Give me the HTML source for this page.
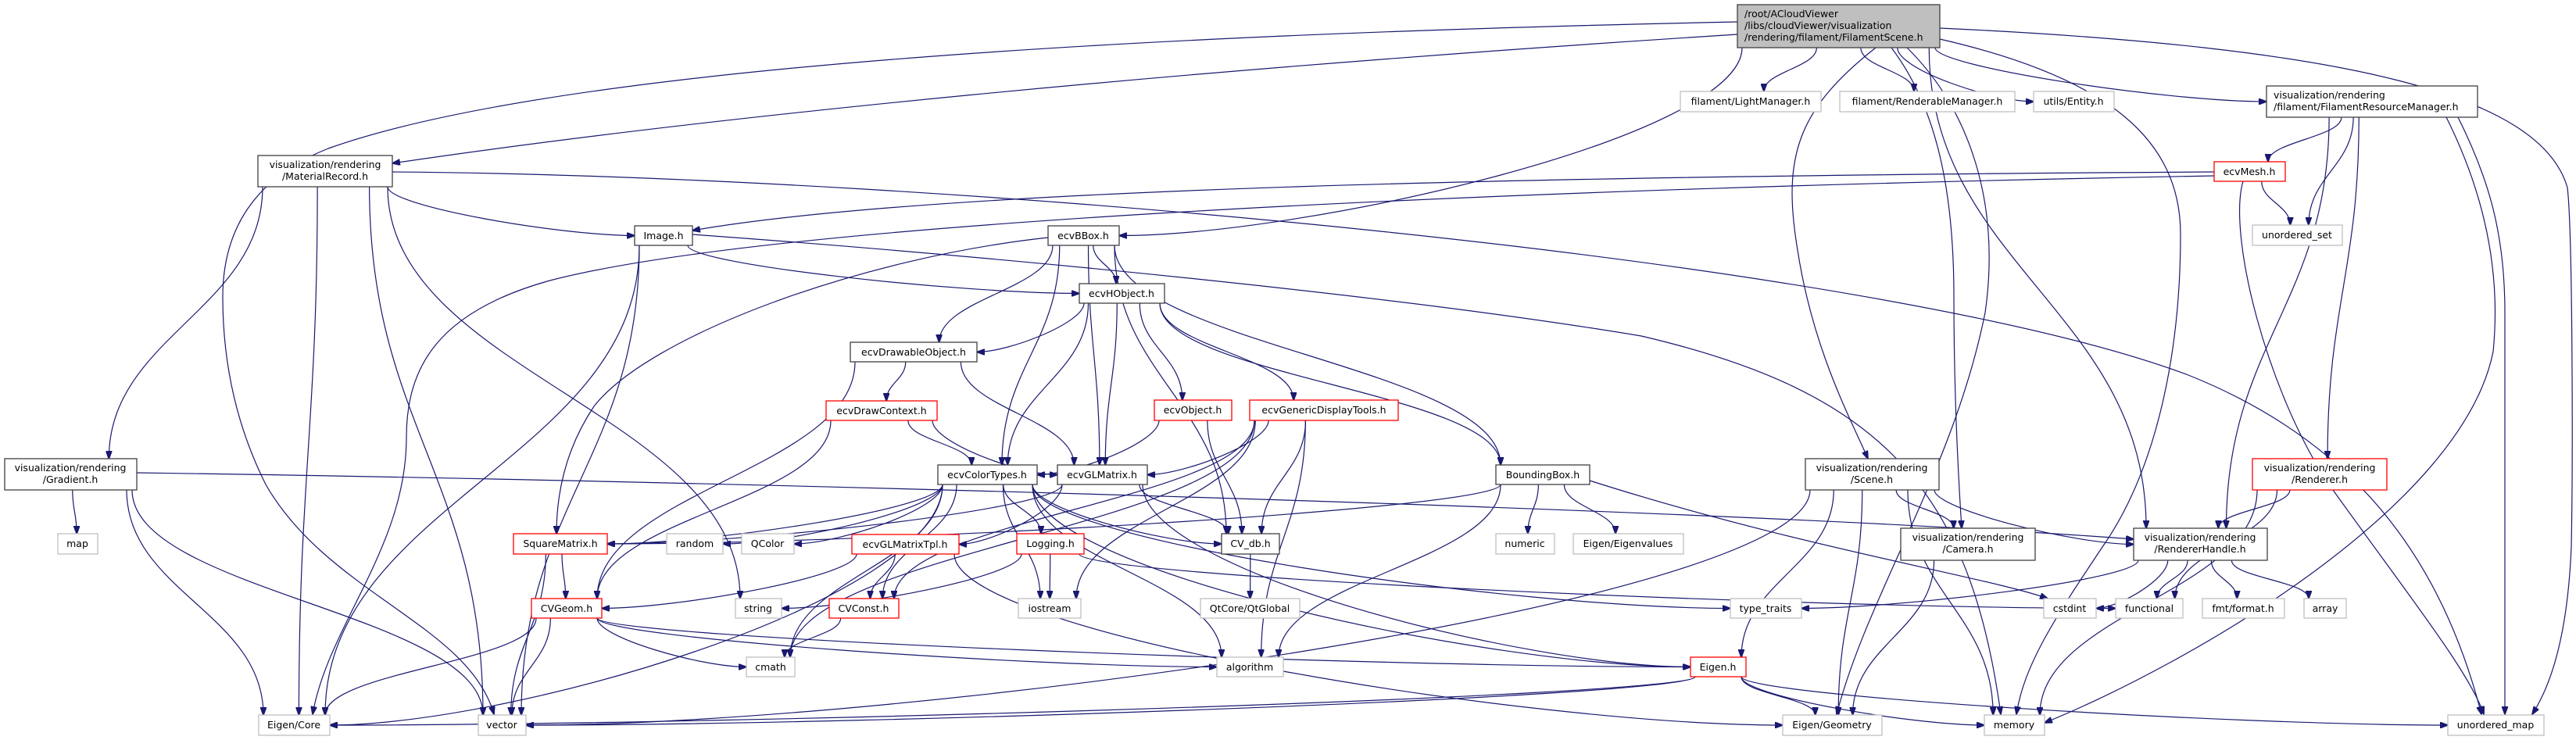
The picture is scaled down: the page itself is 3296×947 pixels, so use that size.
<!DOCTYPE html>
<html><head><meta charset="utf-8">
<style>
html,body{margin:0;padding:0;background:#fff;}
svg{display:block;}
text{font-family:"DejaVu Sans","Liberation Sans",sans-serif;font-size:12.5px;fill:#000;}
</style></head>
<body>
<svg id="g" width="3296" height="947" viewBox="0 0 3296 947" xmlns="http://www.w3.org/2000/svg">
<defs>
<marker id="ah" markerWidth="11" markerHeight="8" refX="10" refY="4" orient="auto" markerUnits="userSpaceOnUse">
<path d="M0,0 L11,4 L0,8 z" fill="#191970" stroke="#191970"/>
</marker>
</defs>
<g id="edges" fill="none" stroke="#191970" stroke-width="1.2"></g>
<g id="nodes">
<rect x="2223" y="6" width="259" height="55" fill="#bfbfbf" stroke="#404040" stroke-width="1.3"/>
<text x="2232" y="22">/root/ACloudViewer</text>
<text x="2232" y="37">/libs/cloudViewer/visualization</text>
<text x="2232" y="52">/rendering/filament/FilamentScene.h</text>

<rect x="330" y="199" width="172" height="40" fill="#fff" stroke="#404040" stroke-width="1.3"/>
<text x="416" y="215" text-anchor="middle">visualization/rendering</text>
<text x="416" y="230" text-anchor="middle">/MaterialRecord.h</text>

<rect x="812" y="289" width="74" height="25" fill="#fff" stroke="#404040" stroke-width="1.3"/>
<text x="849" y="306" text-anchor="middle">Image.h</text>

<rect x="1341" y="289" width="91" height="25" fill="#fff" stroke="#404040" stroke-width="1.3"/>
<text x="1386" y="306" text-anchor="middle">ecvBBox.h</text>

<rect x="1381" y="363" width="109" height="25" fill="#fff" stroke="#404040" stroke-width="1.3"/>
<text x="1435" y="380" text-anchor="middle">ecvHObject.h</text>

<rect x="1088" y="438" width="162" height="25" fill="#fff" stroke="#404040" stroke-width="1.3"/>
<text x="1169" y="455" text-anchor="middle">ecvDrawableObject.h</text>

<rect x="2150" y="117" width="180" height="26" fill="#fff" stroke="#bfbfbf" stroke-width="1.3"/>
<text x="2240" y="134" text-anchor="middle" fill="#000">filament/LightManager.h</text>

<rect x="2354" y="117" width="224" height="26" fill="#fff" stroke="#bfbfbf" stroke-width="1.3"/>
<text x="2466" y="134" text-anchor="middle">filament/RenderableManager.h</text>

<rect x="2602" y="117" width="103" height="26" fill="#fff" stroke="#bfbfbf" stroke-width="1.3"/>
<text x="2653" y="134" text-anchor="middle">utils/Entity.h</text>

<rect x="2900" y="110" width="270" height="40" fill="#fff" stroke="#404040" stroke-width="1.3"/>
<text x="2909" y="126">visualization/rendering</text>
<text x="2909" y="141">/filament/FilamentResourceManager.h</text>

<rect x="2833" y="207" width="91" height="25" fill="#fff" stroke="#ff0000" stroke-width="1.3"/>
<text x="2878" y="224" text-anchor="middle">ecvMesh.h</text>

<rect x="2882" y="288" width="115" height="26" fill="#fff" stroke="#bfbfbf" stroke-width="1.3"/>
<text x="2939" y="305" text-anchor="middle">unordered_set</text>

<rect x="6" y="587" width="169" height="40" fill="#fff" stroke="#404040" stroke-width="1.3"/>
<text x="90" y="603" text-anchor="middle">visualization/rendering</text>
<text x="90" y="618" text-anchor="middle">/Gradient.h</text>

<rect x="74" y="683" width="51" height="26" fill="#fff" stroke="#bfbfbf" stroke-width="1.3"/>
<text x="99" y="700" text-anchor="middle">map</text>

<rect x="657" y="683" width="120" height="26" fill="#fff" stroke="#ff0000" stroke-width="1.3"/>
<text x="717" y="700" text-anchor="middle">SquareMatrix.h</text>

<rect x="853" y="683" width="72" height="26" fill="#fff" stroke="#bfbfbf" stroke-width="1.3"/>
<text x="889" y="700" text-anchor="middle">random</text>

<rect x="949" y="683" width="67" height="26" fill="#fff" stroke="#bfbfbf" stroke-width="1.3"/>
<text x="982" y="700" text-anchor="middle">QColor</text>

<rect x="1090" y="684" width="137" height="25" fill="#fff" stroke="#ff0000" stroke-width="1.3"/>
<text x="1158" y="701" text-anchor="middle">ecvGLMatrixTpl.h</text>

<rect x="680" y="766" width="90" height="25" fill="#fff" stroke="#ff0000" stroke-width="1.3"/>
<text x="725" y="783" text-anchor="middle">CVGeom.h</text>

<rect x="941" y="766" width="59" height="25" fill="#fff" stroke="#bfbfbf" stroke-width="1.3"/>
<text x="970" y="783" text-anchor="middle">string</text>

<rect x="1061" y="766" width="89" height="25" fill="#fff" stroke="#ff0000" stroke-width="1.3"/>
<text x="1105" y="783" text-anchor="middle">CVConst.h</text>

<rect x="955" y="841" width="62" height="25" fill="#fff" stroke="#bfbfbf" stroke-width="1.3"/>
<text x="986" y="858" text-anchor="middle">cmath</text>

<rect x="331" y="915" width="91" height="26" fill="#fff" stroke="#bfbfbf" stroke-width="1.3"/>
<text x="376" y="932" text-anchor="middle">Eigen/Core</text>

<rect x="612" y="915" width="61" height="26" fill="#fff" stroke="#bfbfbf" stroke-width="1.3"/>
<text x="642" y="932" text-anchor="middle">vector</text>

<rect x="1057" y="513" width="142" height="25" fill="#fff" stroke="#ff0000" stroke-width="1.3"/>
<text x="1128" y="530" text-anchor="middle">ecvDrawContext.h</text>

<rect x="1477" y="512" width="99" height="26" fill="#fff" stroke="#ff0000" stroke-width="1.3"/>
<text x="1526" y="529" text-anchor="middle">ecvObject.h</text>

<rect x="1599" y="512" width="190" height="26" fill="#fff" stroke="#ff0000" stroke-width="1.3"/>
<text x="1694" y="529" text-anchor="middle">ecvGenericDisplayTools.h</text>

<rect x="1200" y="595" width="127" height="25" fill="#fff" stroke="#404040" stroke-width="1.3"/>
<text x="1263" y="612" text-anchor="middle">ecvColorTypes.h</text>

<rect x="1353" y="595" width="115" height="25" fill="#fff" stroke="#404040" stroke-width="1.3"/>
<text x="1410" y="612" text-anchor="middle">ecvGLMatrix.h</text>

<rect x="1914" y="595" width="120" height="25" fill="#fff" stroke="#404040" stroke-width="1.3"/>
<text x="1974" y="612" text-anchor="middle">BoundingBox.h</text>

<rect x="1301" y="683" width="86" height="26" fill="#fff" stroke="#ff0000" stroke-width="1.3"/>
<text x="1344" y="700" text-anchor="middle">Logging.h</text>

<rect x="1563" y="683" width="74" height="26" fill="#fff" stroke="#404040" stroke-width="1.3"/>
<text x="1600" y="700" text-anchor="middle">CV_db.h</text>

<rect x="1914" y="683" width="75" height="26" fill="#fff" stroke="#bfbfbf" stroke-width="1.3"/>
<text x="1951" y="700" text-anchor="middle">numeric</text>

<rect x="2013" y="683" width="141" height="26" fill="#fff" stroke="#bfbfbf" stroke-width="1.3"/>
<text x="2083" y="700" text-anchor="middle">Eigen/Eigenvalues</text>

<rect x="1303" y="766" width="80" height="25" fill="#fff" stroke="#bfbfbf" stroke-width="1.3"/>
<text x="1343" y="783" text-anchor="middle">iostream</text>

<rect x="1536" y="766" width="127" height="25" fill="#fff" stroke="#bfbfbf" stroke-width="1.3"/>
<text x="1599" y="783" text-anchor="middle">QtCore/QtGlobal</text>

<rect x="1557" y="841" width="85" height="25" fill="#fff" stroke="#bfbfbf" stroke-width="1.3"/>
<text x="1599" y="858" text-anchor="middle">algorithm</text>

<rect x="2163" y="841" width="71" height="25" fill="#fff" stroke="#ff0000" stroke-width="1.3"/>
<text x="2198" y="858" text-anchor="middle">Eigen.h</text>

<rect x="2310" y="587" width="171" height="40" fill="#fff" stroke="#404040" stroke-width="1.3"/>
<text x="2395" y="603" text-anchor="middle">visualization/rendering</text>
<text x="2395" y="618" text-anchor="middle">/Scene.h</text>

<rect x="2882" y="587" width="172" height="40" fill="#fff" stroke="#ff0000" stroke-width="1.3"/>
<text x="2968" y="603" text-anchor="middle">visualization/rendering</text>
<text x="2968" y="618" text-anchor="middle">/Renderer.h</text>

<rect x="2432" y="676" width="172" height="41" fill="#fff" stroke="#404040" stroke-width="1.3"/>
<text x="2518" y="692" text-anchor="middle">visualization/rendering</text>
<text x="2518" y="707" text-anchor="middle">/Camera.h</text>

<rect x="2730" y="676" width="171" height="41" fill="#fff" stroke="#404040" stroke-width="1.3"/>
<text x="2815" y="692" text-anchor="middle">visualization/rendering</text>
<text x="2815" y="707" text-anchor="middle">/RendererHandle.h</text>

<rect x="2214" y="766" width="91" height="25" fill="#fff" stroke="#bfbfbf" stroke-width="1.3"/>
<text x="2259" y="783" text-anchor="middle">type_traits</text>

<rect x="2615" y="766" width="67" height="25" fill="#fff" stroke="#bfbfbf" stroke-width="1.3"/>
<text x="2648" y="783" text-anchor="middle">cstdint</text>

<rect x="2707" y="766" width="86" height="25" fill="#fff" stroke="#bfbfbf" stroke-width="1.3"/>
<text x="2750" y="783" text-anchor="middle">functional</text>

<rect x="2818" y="766" width="105" height="25" fill="#fff" stroke="#bfbfbf" stroke-width="1.3"/>
<text x="2870" y="783" text-anchor="middle">fmt/format.h</text>

<rect x="2948" y="766" width="54" height="25" fill="#fff" stroke="#bfbfbf" stroke-width="1.3"/>
<text x="2975" y="783" text-anchor="middle">array</text>

<rect x="2281" y="915" width="127" height="26" fill="#fff" stroke="#bfbfbf" stroke-width="1.3"/>
<text x="2344" y="932" text-anchor="middle">Eigen/Geometry</text>

<rect x="2539" y="915" width="77" height="26" fill="#fff" stroke="#bfbfbf" stroke-width="1.3"/>
<text x="2577" y="932" text-anchor="middle">memory</text>

<rect x="3132" y="915" width="123" height="26" fill="#fff" stroke="#bfbfbf" stroke-width="1.3"/>
<text x="3193" y="932" text-anchor="middle">unordered_map</text>
</g>
<script>
(function(){
var N={
R:[2223,6,259,55],MR:[330,199,172,40],IM:[812,289,74,25],BB:[1341,289,91,25],HO:[1381,363,109,25],
DO:[1088,438,162,25],LM:[2150,117,180,26],RM:[2354,117,224,26],EN:[2602,117,103,26],FRM:[2900,110,270,40],
ME:[2833,207,91,25],US:[2882,288,115,26],GR:[6,587,169,40],MAP:[74,683,51,26],SQ:[657,683,120,26],
RA:[853,683,72,26],QC:[949,683,67,26],GT:[1090,684,137,25],CG:[680,766,90,25],ST:[941,766,59,25],
CC:[1061,766,89,25],CM:[955,841,62,25],EC:[331,915,91,26],VE:[612,915,61,26],DC:[1057,513,142,25],
OB:[1477,512,99,26],GD:[1599,512,190,26],CT:[1200,595,127,25],GL:[1353,595,115,25],BX:[1914,595,120,25],
LG:[1301,683,86,26],DB:[1563,683,74,26],NU:[1914,683,75,26],EV:[2013,683,141,26],IO:[1303,766,80,25],
QT:[1536,766,127,25],AL:[1557,841,85,25],EH:[2163,841,71,25],SC:[2310,587,171,40],RE:[2882,587,172,40],
CA:[2432,676,172,41],RH:[2730,676,171,41],TT:[2214,766,91,25],CI:[2615,766,67,25],FU:[2707,766,86,25],
FM:[2818,766,105,25],AR:[2948,766,54,25],EG:[2281,915,127,26],MEM:[2539,915,77,26],UM:[3132,915,123,26]};
var O={
'R>VE':'M2223,28 C1400,45 700,90 420,190 C320,230 285,300 285,380 C285,480 310,560 340,620 C420,760 600,800 632,914',
'R>MR':'M2223,44 C1500,90 900,150 502,209',
'R>UM':'M2482,36 C3000,60 3250,120 3285,240 C3292,300 3292,600 3290,700 C3285,820 3262,880 3240,914',
'R>MEM':'M2482,50 C2700,100 2790,180 2790,300 C2790,450 2760,600 2690,700 C2630,790 2590,850 2580,914',
'R>EG':'M2440,61 C2520,140 2560,260 2540,400 C2500,600 2390,760 2350,914',
'R>SC':'M2400,61 C2300,140 2280,200 2300,320 C2320,450 2370,540 2390,587',
'R>CA':'M2420,61 C2480,140 2500,250 2500,380 C2500,500 2505,600 2510,676',
'MR>UM':'M502,220 C1200,225 2400,330 2800,480 C3000,560 3120,700 3175,914',
'ME>IM':'M2833,220 C2000,225 1200,240 886,295',
'ME>EC':'M2833,225 C2000,240 1000,280 700,360 C560,400 520,470 520,560 C520,700 420,800 400,914',
'ME>UM':'M2870,232 C2850,300 2900,500 2980,620 C3080,760 3160,860 3178,914',
'IM>MEM':'M886,300 C1300,330 1800,380 2100,430 C2400,500 2520,620 2560,914',
'GR>RH':'M175,605 C900,615 2200,650 2730,690',
'FRM>MEM':'M3130,150 C3180,250 3200,350 3190,450 C3150,650 2800,850 2616,925',
'FRM>UM':'M3145,150 C3185,230 3205,300 3205,400 L3205,914',
'BB>SQ':'M1341,304 C1100,330 830,430 760,520 C720,580 712,640 712,683',
'BX>CI':'M2034,615 C2300,700 2550,740 2620,766'
};
var E=[
['R','MR'],['R','BB'],['R','LM'],['R','RM'],['R','EN'],['R','FRM'],['R','SC'],['R','CA'],['R','RH'],['R','EG'],['R','VE'],['R','UM'],['R','MEM'],
['MR','IM'],['MR','GR'],['MR','EC'],['MR','ST'],['MR','UM'],['MR','VE'],
['IM','HO'],['IM','EC'],['IM','VE'],['IM','MEM'],
['BB','HO'],['BB','DO'],['BB','CT'],['BB','GL'],['BB','DB'],['BB','BX'],['BB','SQ'],
['HO','DO'],['HO','CT'],['HO','GL'],['HO','OB'],['HO','GD'],['HO','BX'],
['DO','DC'],['DO','GL'],['DO','CG'],
['DC','CT'],['DC','GL'],['DC','CG'],
['OB','CT'],['OB','DB'],
['GD','GL'],['GD','DB'],['GD','CC'],['GD','IO'],['GD','AL'],['GD','CM'],
['CT','SQ'],['CT','RA'],['CT','QC'],['CT','CC'],['CT','LG'],['CT','IO'],['CT','AL'],['CT','DB'],['CT','EC'],['CT','CM'],['CT','TT'],['CT','EH'],
['GL','GT'],['GL','DB'],['GL','EH'],['GL','SQ'],
['GT','CG'],['GT','CC'],['GT','EG'],
['LG','IO'],['LG','ST'],['LG','FU'],
['DB','QT'],
['BX','SQ'],['BX','NU'],['BX','EV'],['BX','AL'],['BX','CI'],
['SQ','CG'],['SQ','VE'],
['CG','EC'],['CG','VE'],['CG','CM'],['CG','AL'],['CG','EH'],
['CC','CM'],
['EH','EC'],['EH','VE'],['EH','EG'],['EH','MEM'],['EH','UM'],
['GR','MAP'],['GR','EC'],['GR','VE'],['GR','RH'],
['SC','CA'],['SC','RH'],['SC','EH'],['SC','EG'],['SC','MEM'],['SC','VE'],
['CA','EG'],
['RH','TT'],['RH','CI'],['RH','FU'],['RH','FM'],['RH','AR'],
['RE','RH'],['RE','FU'],['RE','MEM'],
['FRM','ME'],['FRM','US'],['FRM','RH'],['FRM','RE'],['FRM','UM'],['FRM','MEM'],
['ME','US'],['ME','IM'],['ME','EC'],['ME','UM']
];
var g=document.getElementById('edges'),ns='http://www.w3.org/2000/svg';
function cl(v,a,b){return Math.max(a,Math.min(b,v));}
E.forEach(function(e){
var s=N[e[0]],t=N[e[1]],d=O[e[0]+'>'+e[1]];
var scx=s[0]+s[2]/2,tcx=t[0]+t[2]/2,sb=s[1]+s[3],tt=t[1],tcy=t[1]+t[3]/2,scy=s[1]+s[3]/2;
if(!d){
if(tt>sb+8){
var sx=cl(scx+(tcx-scx)*0.25,s[0]+6,s[0]+s[2]-6);
var tx=cl(tcx+(scx-tcx)*0.15,t[0]+6,t[0]+t[2]-6);
var dy=tt-sb;
if(Math.abs(tcx-sx)>dy*2.5){
 var ex=tcx>sx?t[0]:t[0]+t[2];
 d='M'+sx+','+sb+' C'+sx+','+(sb+dy*0.5)+' '+(ex+(sx-ex)*0.3)+','+tcy+' '+ex+','+tcy;
}else{
 d='M'+sx+','+sb+' C'+sx+','+(sb+dy*0.45)+' '+tx+','+(tt-dy*0.45)+' '+tx+','+tt;
}
}else{
var right=tcx>scx;
var sx2=right?s[0]+s[2]:s[0],tx2=right?t[0]:t[0]+t[2];
d='M'+sx2+','+scy+' C'+((sx2+tx2)/2)+','+scy+' '+((sx2+tx2)/2)+','+tcy+' '+tx2+','+tcy;
}}
var p=document.createElementNS(ns,'path');p.setAttribute('d',d);p.setAttribute('marker-end','url(#ah)');g.appendChild(p);
});
})();
</script>
</svg>
</body></html>
